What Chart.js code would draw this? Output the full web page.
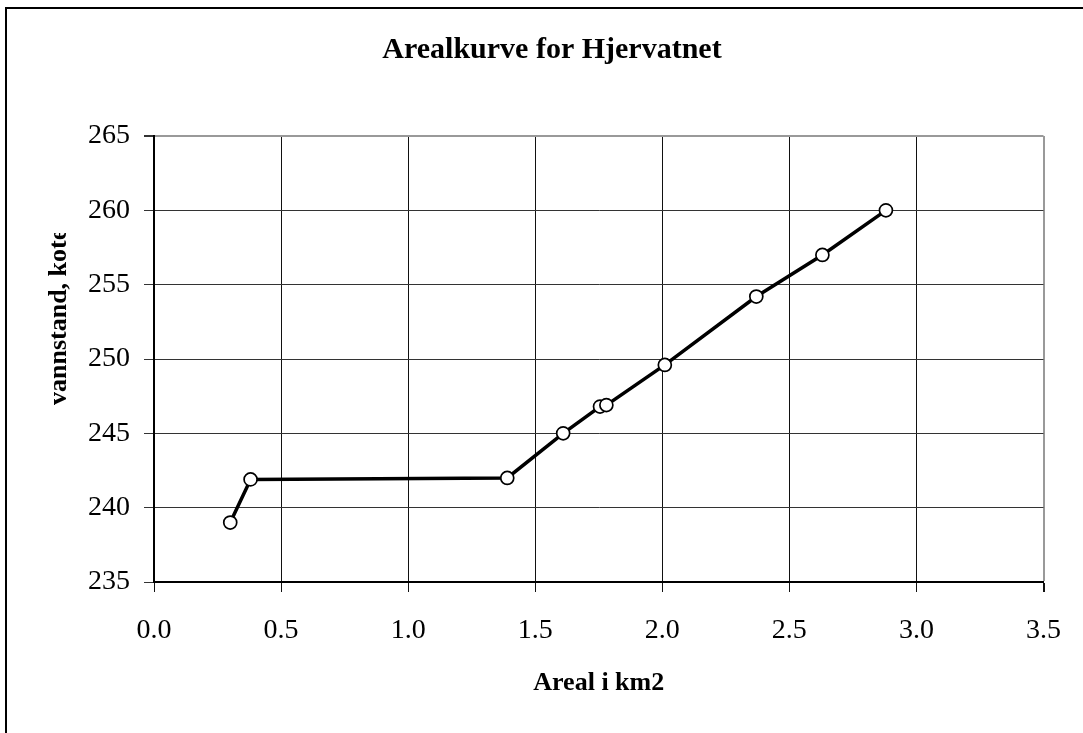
<!DOCTYPE html>
<html>
<head>
<meta charset="utf-8">
<script src="https://cdn.jsdelivr.net/npm/chart.js@4.4.1/dist/chart.umd.min.js"></script>
<style>
  html, body { margin: 0; padding: 0; background: #fff; }
  #wrap { width: 1083px; height: 733px; position: relative; }
</style>
</head>
<body>
<div id="wrap"><canvas id="c" width="1083" height="733"></canvas></div>
<script>
const chartTitle = "Arealkurve for Hjervatnet";
const xTitle = "Areal i km2";
const yTitle = "vannstand, kote";
const areal = [0.30, 0.38, 1.39, 1.61, 1.755, 1.78, 2.01, 2.37, 2.63, 2.88];
const vannstand = [239.0, 241.9, 242.0, 245.0, 246.8, 246.9, 249.6, 254.2, 257.0, 260.0];
const xTicks = [0.0, 0.5, 1.0, 1.5, 2.0, 2.5, 3.0, 3.5];
const yTicks = [235, 240, 245, 250, 255, 260, 265];

const points = areal.map((x, i) => ({ x: x, y: vannstand[i] }));
const SERIF = "'Liberation Serif', 'Times New Roman', serif";

const decor = {
  id: 'decor',
  beforeDraw(chart) {
    const ctx = chart.ctx;
    ctx.save();
    ctx.fillStyle = '#fff';
    ctx.fillRect(0, 0, chart.width, chart.height);
    ctx.strokeStyle = '#000';
    ctx.lineWidth = 2;
    ctx.beginPath();
    ctx.moveTo(6, 733);
    ctx.lineTo(6, 8);
    ctx.lineTo(1083, 8);
    ctx.stroke();
    ctx.restore();
  },
  afterDraw(chart) {
    const ctx = chart.ctx;
    const a = chart.chartArea;
    ctx.save();
    ctx.fillStyle = '#000';
    ctx.font = "bold 30px " + SERIF;
    ctx.textAlign = 'center';
    ctx.textBaseline = 'alphabetic';
    ctx.fillText(chartTitle, 552, 58);
    ctx.font = "bold 26px " + SERIF;
    ctx.fillText(xTitle, (a.left + a.right) / 2, 690);
    // y title, clipped like the original
    ctx.beginPath();
    ctx.rect(0, 233, 150, 500);
    ctx.clip();
    ctx.translate(66, 405);
    ctx.rotate(-Math.PI / 2);
    ctx.textAlign = 'left';
    ctx.font = "bold 26px " + SERIF;
    ctx.fillText(yTitle, 0, 0);
    ctx.restore();
  }
};

new Chart(document.getElementById('c'), {
  type: 'scatter',
  data: {
    datasets: [{
      data: points,
      showLine: true,
      borderColor: '#000',
      borderWidth: 3.5,
      pointRadius: 6.5,
      pointHoverRadius: 6.5,
      pointBackgroundColor: '#fff',
      pointBorderColor: '#000',
      pointBorderWidth: 1.7,
      tension: 0
    }]
  },
  options: {
    responsive: false,
    animation: false,
    events: [],
    layout: { padding: { left: 0, right: 35, top: 136, bottom: 0 } },
    plugins: { legend: { display: false }, tooltip: { enabled: false }, title: { display: false } },
    scales: {
      x: {
        type: 'linear',
        min: 0, max: 3.5,
        afterFit(s) { s.height = 151; },
        afterBuildTicks(s) { s.ticks = xTicks.map(v => ({ value: v })); },
        ticks: {
          color: '#000',
          padding: 22,
          font: { family: SERIF, size: 28 },
          callback: v => Number(v).toFixed(1)
        },
        grid: {
          color: ctx => (ctx.tick && ctx.tick.value === 3.5) ? '#999' : '#111',
          lineWidth: ctx => (ctx.tick && ctx.tick.value === 3.5) ? 2 : 1,
          tickColor: '#111',
          tickLength: 10
        },
        border: { color: '#000', width: 2 }
      },
      y: {
        type: 'linear',
        min: 235, max: 265,
        afterFit(s) { s.width = 154; },
        afterBuildTicks(s) { s.ticks = yTicks.map(v => ({ value: v })); },
        ticks: {
          color: '#000',
          padding: 14,
          font: { family: SERIF, size: 28 },
          callback: v => String(v)
        },
        grid: {
          color: ctx => (ctx.tick && ctx.tick.value === 265) ? '#999' : '#333',
          lineWidth: ctx => (ctx.tick && ctx.tick.value === 265) ? 2 : 1,
          tickColor: '#333',
          tickLength: 10
        },
        border: { color: '#000', width: 2 }
      }
    }
  },
  plugins: [decor]
});
</script>
</body>
</html>
